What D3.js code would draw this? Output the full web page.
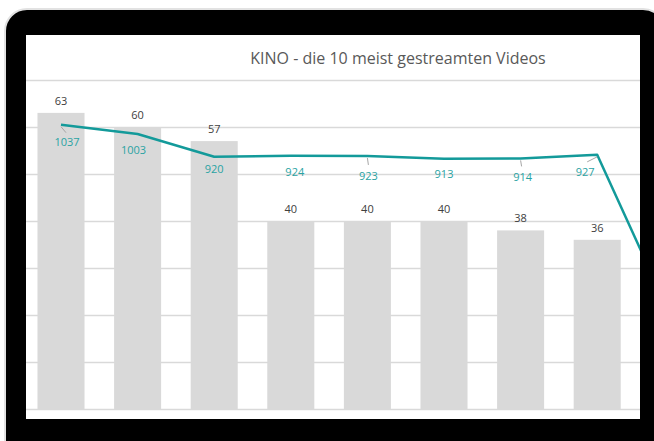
<!DOCTYPE html>
<html lang="de">
<head>
    <meta charset="UTF-8">
    <title>KINO - die 10 meist gestreamten Videos</title>
    <script src="https://d3js.org/d3.v7.min.js"></script>
    <style>
        body { margin: 0; background: #fff; }
        svg { display: block; }
        text { font-family: "Open Sans", "DejaVu Sans", sans-serif; }
    </style>
</head>
<body>
    <div id="chart"></div>

    <script>
        // Data (9th/10th are cut off by the screen edge)
        const categories = ["Video 1", "Video 2", "Video 3", "Video 4", "Video 5",
                            "Video 6", "Video 7", "Video 8", "Video 9", "Video 10"];
        const streams = [63, 60, 57, 40, 40, 40, 38, 36, 35, 34];      // bars
        const minutes = [1037, 1003, 920, 924, 923, 913, 914, 927, 315, 300]; // line
        const barTicks = [0, 10, 20, 30, 40, 50, 60, 70];

        // hand placed label offsets for the line labels (like in the original)
        const lineLabelDx = [6, -4, 0, 4, 1, 0, 2, -12];
        const lineLabelDy = [17, 16, 12, 16, 20, 15, 19, 17];
        // leader lines: end point relative to the data point, null = none
        const leaders = [[5, 8], null, null, null, [1, 9], null, [1, 8], [-10, 7]];

        const W = 654, H = 441;
        const screen = { x: 26, y: 35, w: 614, h: 384 };

        const svg = d3.select('#chart').append('svg')
            .attr('width', W)
            .attr('height', H);

        // tablet frame
        svg.append('rect')
            .attr('x', 5).attr('y', 9)
            .attr('width', 660).attr('height', 460)
            .attr('rx', 22)
            .style('fill', '#000')
            .style('stroke', '#e2e2e2')
            .style('stroke-width', 2);

        svg.append('clipPath').attr('id', 'scr')
            .append('rect')
            .attr('x', screen.x).attr('y', screen.y)
            .attr('width', screen.w).attr('height', screen.h);

        svg.append('rect')
            .attr('x', screen.x).attr('y', screen.y)
            .attr('width', screen.w).attr('height', screen.h)
            .style('fill', '#fff');

        const g = svg.append('g').attr('clip-path', 'url(#scr)');

        // scales
        const x = d3.scaleBand()
            .domain(categories)
            .range([22.7, 788.7])
            .paddingInner(0.386)
            .paddingOuter(0.193);

        const y = d3.scaleLinear().domain([0, 70]).range([409, 80]);
        const y2 = d3.scaleLinear().domain([0, 1200]).range([409, 80]);
        const cx = i => x(categories[i]) + x.bandwidth() / 2;
        const visible = i => cx(i) < screen.x + screen.w;

        // gridlines
        const grid = g.append('g')
            .attr('transform', `translate(${screen.x},0)`)
            .call(d3.axisLeft(y).tickValues(barTicks).tickSize(-screen.w).tickFormat(''));
        grid.select('.domain').remove();
        grid.selectAll('.tick line')
            .style('stroke', '#d9d9d9')
            .style('stroke-width', 1.5);

        // title
        g.append('text')
            .attr('x', 398).attr('y', 64)
            .attr('text-anchor', 'middle')
            .style('font-size', '16px')
            .style('fill', '#595959')
            .text('KINO - die 10 meist gestreamten Videos');

        // bars
        g.selectAll('.bar')
            .data(streams)
            .join('rect')
            .attr('class', 'bar')
            .attr('x', (d, i) => x(categories[i]))
            .attr('y', d => y(d))
            .attr('width', x.bandwidth())
            .attr('height', d => y(0) - y(d))
            .style('fill', '#d9d9d9');

        const barLabels = streams.map((v, i) => ({ v, i })).filter(d => visible(d.i));
        g.selectAll('.barlabel')
            .data(barLabels)
            .join('text')
            .attr('class', 'barlabel')
            .attr('x', d => cx(d.i))
            .attr('y', d => y(d.v) - 8)
            .attr('text-anchor', 'middle')
            .style('font-size', '11px')
            .style('fill', '#404040')
            .text(d => d.v);

        // line
        const line = d3.line()
            .x((d, i) => cx(i))
            .y(d => y2(d));

        g.append('path')
            .datum(minutes)
            .attr('d', line)
            .style('fill', 'none')
            .style('stroke', '#139a9a')
            .style('stroke-width', 2.5)
            .style('stroke-linejoin', 'round');

        const lineLabels = minutes.map((v, i) => ({ v, i })).filter(d => d.i < lineLabelDx.length);

        // little leader lines
        g.selectAll('.leader')
            .data(lineLabels.filter(d => leaders[d.i]))
            .join('line')
            .attr('class', 'leader')
            .attr('x1', d => cx(d.i))
            .attr('y1', d => y2(d.v) + 2)
            .attr('x2', d => cx(d.i) + leaders[d.i][0])
            .attr('y2', d => y2(d.v) + leaders[d.i][1])
            .style('stroke', '#a6a6a6')
            .style('stroke-width', 1);

        g.selectAll('.linelabel')
            .data(lineLabels)
            .join('text')
            .attr('class', 'linelabel')
            .attr('x', d => cx(d.i) + lineLabelDx[d.i])
            .attr('y', d => y2(d.v) + lineLabelDy[d.i] + 4)
            .attr('text-anchor', 'middle')
            .style('font-size', '11px')
            .style('fill', '#2aa3a3')
            .text(d => d.v);
    </script>
</body>
</html>
